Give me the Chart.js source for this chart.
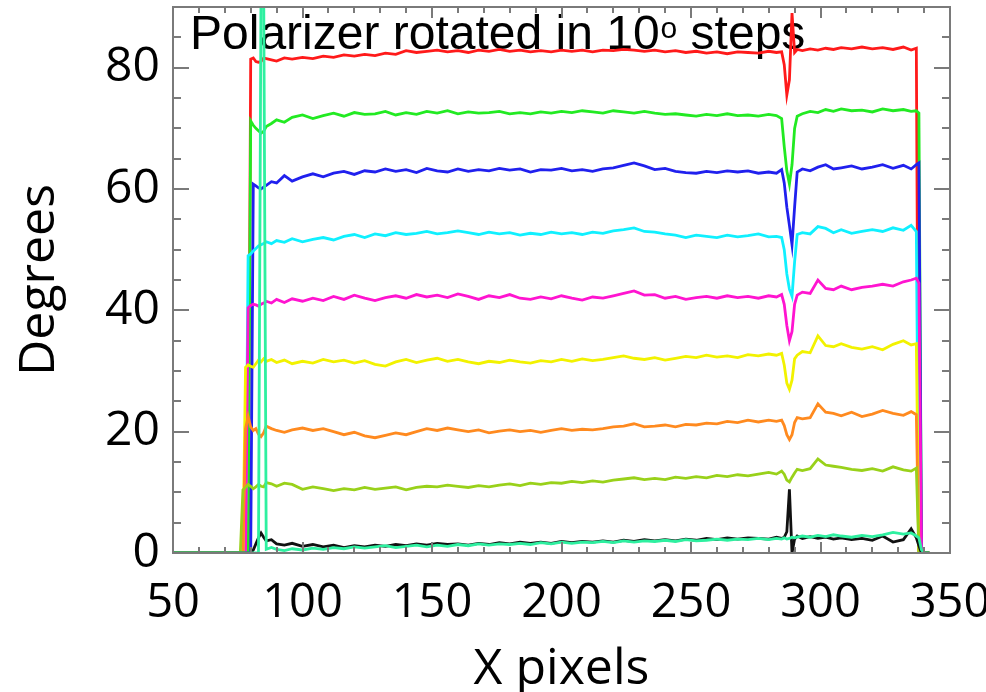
<!DOCTYPE html>
<html>
<head>
<meta charset="utf-8">
<script src="https://cdn.jsdelivr.net/npm/chart.js@4/dist/chart.umd.min.js"></script>
<style>
  html, body { margin: 0; background: #fff; }
  #wrap { width: 986px; height: 692px; }
</style>
</head>
<body>
<div id="wrap"><canvas id="chart"></canvas></div>
<script>
// x positions (pixels) shared by every trace
const xPixels = [
  50, 76, 77, 78, 79, 80, 81, 82, 83, 84, 85, 86,
  88, 90, 93, 96,
  100, 104, 108, 112, 116, 120, 124, 128, 132, 136,
  140, 144, 148, 152, 156, 160, 164, 168, 172, 176,
  180, 184, 188, 192, 196, 200, 204, 208, 212, 216,
  220, 224, 228, 232, 236, 240, 244, 248, 252, 256,
  260, 264, 268, 272, 276, 280,
  283, 285, 286, 287, 288, 289, 290, 291, 293, 296, 299, 302, 305, 308,
  312, 316, 320, 324, 328, 332, 335, 337, 338, 339, 340, 342
];

// angle traces, one per polarizer step (degrees)
const deg80 = [
  0, 0, 0, 0, 0, 81.4, 81.6, 81.0, 80.9, 81.0, 81.6, 81.5,
  81.3, 81.1, 81.6, 81.4,
  81.7, 81.5, 81.9, 81.7, 82.1, 81.9, 82.2, 82.0, 82.4, 82.2,
  82.8, 82.5, 82.7, 82.9, 82.6, 82.8, 82.5, 82.9, 82.7, 83.0,
  82.7, 82.9, 82.6, 82.8, 82.6, 82.9, 82.7, 82.9, 82.6, 82.9,
  82.8, 83.0, 82.9, 82.7, 82.9, 82.6, 82.8, 82.5, 82.7, 82.4,
  82.6, 82.3, 82.6, 82.5, 82.4, 82.7,
  82.5, 82.6, 80.5, 75.5, 78.0, 89.0, 82.5, 83.0, 82.8, 83.1, 82.9, 83.2, 83.0, 83.3,
  83.1, 83.4, 83.1, 83.3, 83.0, 83.4, 82.9, 83.2, 0, 0, 0, 0
];
const deg70 = [
  0, 0, 0, 0, 0, 71.2, 70.5, 70.0, 69.6, 69.2, 69.5, 70.3,
  70.8, 71.4, 71.0, 71.8,
  72.2, 71.6, 72.1, 72.5, 72.0, 72.6, 72.3, 72.4, 72.8, 72.2,
  72.6, 72.3, 72.8, 72.5, 72.9, 72.4, 72.7, 72.5, 72.6, 72.8,
  72.4, 72.6, 72.4, 72.7, 72.5, 72.8, 72.6, 72.9, 72.7, 72.5,
  72.9, 72.7, 72.5, 72.8, 72.5, 72.3, 72.4, 72.2, 72.0, 72.3,
  72.1, 72.4, 72.1, 72.2, 72.0, 72.3,
  72.1, 71.6, 67.0, 63.0, 60.8, 64.0, 70.0, 72.0, 72.4, 72.8, 72.6, 73.1, 72.8, 73.2,
  72.9, 73.0, 72.7, 73.2, 72.9, 73.1, 72.8, 72.9, 72.5, 0, 0, 0
];
const deg60 = [
  0, 0, 0, 0, 0, 0, 60.8, 60.5, 60.2, 60.0, 60.3, 60.6,
  61.2, 61.0, 62.2, 61.3,
  62.0, 62.5, 62.0, 62.6, 62.9, 62.4, 63.0, 62.8, 63.3, 62.9,
  63.2, 62.7, 63.4, 63.0, 62.8, 63.3, 62.9, 63.2, 63.0, 63.4,
  63.1, 63.3, 62.8, 63.2, 63.1, 63.4, 63.0, 63.2, 62.9, 63.3,
  63.5, 63.9, 64.3, 63.8, 63.2, 63.4, 62.9, 62.7, 62.6, 62.9,
  62.7, 63.0, 62.8, 63.0, 62.6, 62.8,
  62.6, 63.2, 61.0, 57.0, 54.0, 50.8, 57.0, 62.8, 63.3, 63.0, 63.6, 64.0, 63.3, 63.5,
  63.8, 63.3, 63.6, 64.0, 63.4, 63.9, 63.3, 64.0, 64.3, 0, 0, 0
];
const deg50 = [
  0, 0, 0, 0, 49.0, 49.3, 49.8, 50.2, 50.6, 50.8, 51.0, 51.3,
  51.0, 51.5, 51.2, 51.8,
  51.3, 51.7, 52.0, 51.6, 52.2, 52.5, 52.0, 52.6, 52.3, 52.8,
  52.5, 52.7, 53.0, 52.6, 52.8, 53.1, 52.8, 52.5, 52.9, 52.6,
  52.8, 52.4, 52.7, 52.5, 52.9, 52.6, 52.8, 52.5, 52.9, 52.7,
  53.1, 53.3, 53.6, 53.0, 52.9, 52.6, 52.4, 52.0, 52.4, 52.2,
  52.0, 52.4, 52.1, 52.3, 52.6, 52.1,
  52.2, 52.0, 50.0, 46.0, 43.5, 42.3, 48.0, 52.5, 52.8, 52.6, 53.8, 53.5, 52.8, 53.3,
  52.7, 53.0, 53.3, 53.0, 53.6, 53.2, 54.0, 53.0, 0, 0, 0, 0
];
const deg40 = [
  0, 0, 0, 0, 40.4, 40.8, 41.0, 40.9, 40.7, 41.0, 41.2, 41.5,
  41.2, 41.8, 41.3, 41.9,
  41.5, 42.0, 41.6, 42.3, 41.8, 42.5, 42.0, 41.6, 42.1, 42.4,
  42.0, 42.6, 42.2, 42.5, 42.1, 42.7, 42.3, 41.8, 42.4, 42.1,
  42.6, 42.0, 41.8, 42.2, 41.9, 42.4, 42.0, 41.7, 42.2, 42.0,
  42.4, 42.8, 43.2, 42.5, 42.6, 42.0, 42.3, 41.8, 42.1, 42.3,
  42.0, 42.4, 42.1, 42.3, 42.0, 42.4,
  42.2, 42.6, 41.0, 37.5, 35.0, 36.5, 41.0, 42.5, 43.0, 42.8, 45.0, 43.6, 43.4, 44.0,
  43.4, 43.8, 44.0, 44.3, 44.0, 44.7, 45.0, 45.3, 44.5, 0, 0, 0
];
const deg30 = [
  0, 0, 0, 30.6, 31.0, 30.8, 30.6, 31.2, 31.8, 31.5, 32.0, 31.6,
  31.9, 31.4, 31.8, 31.2,
  31.6, 31.3, 31.9, 31.5, 31.8, 31.3, 31.7, 31.1, 30.8, 31.5,
  31.9, 31.4, 31.8, 32.1, 31.6, 31.9, 31.5, 31.2, 31.6, 31.4,
  31.8, 31.5, 31.3, 31.7, 31.5, 31.9, 31.6, 32.0, 31.7, 31.9,
  32.2, 32.5, 32.1, 31.9, 32.2, 31.8, 32.1, 32.4, 32.2, 32.6,
  32.3, 32.5, 32.2, 32.7, 32.5, 32.8,
  32.6, 32.9, 31.0, 28.0, 27.0, 28.5, 32.0, 32.6, 33.2, 33.0, 35.8, 34.2, 34.0, 34.5,
  33.9, 33.6, 34.0, 33.5, 34.4, 35.0, 34.3, 34.5, 0, 0, 0, 0
];
const deg20 = [
  0, 0, 0, 20.5, 22.5, 20.8, 20.2, 20.5, 19.6, 19.2, 19.8, 20.9,
  20.5, 20.2, 19.9, 20.3,
  20.6, 20.2, 20.5, 20.0, 19.5, 19.9, 19.3, 19.0, 19.4, 19.8,
  19.5, 20.0, 20.5, 20.2, 20.6, 20.3, 20.0, 20.3, 19.8, 20.1,
  20.3, 20.0, 20.2, 19.9, 20.2, 20.5, 20.2, 20.4, 20.3, 20.5,
  20.8, 20.9, 21.3, 20.8, 20.9, 21.1, 20.8, 21.2, 21.1, 21.4,
  21.3, 21.7, 21.5, 21.9, 21.6, 21.9,
  21.7, 21.9, 21.0, 19.5, 18.7, 19.5, 21.5, 22.3, 22.1, 22.3, 24.6, 23.2, 23.0, 22.6,
  23.2, 22.5, 22.9, 23.5, 23.0, 22.7, 23.3, 22.8, 0, 0, 0, 0
];
const deg10 = [
  0, 0, 10.4, 10.8, 11.3, 11.0, 10.6, 10.9, 11.3, 11.0, 10.9, 11.6,
  11.4, 11.0, 11.5, 11.3,
  10.5, 10.9, 10.6, 10.3, 10.6, 10.4, 10.8, 10.5, 10.7, 10.9,
  10.4, 10.8, 11.0, 10.9, 11.2, 11.0, 10.8, 11.1, 10.9, 11.2,
  11.4, 11.1, 11.5, 11.3, 11.6, 11.5, 11.8, 11.6, 11.9, 11.7,
  12.0, 12.2, 12.4, 12.1, 12.3, 12.1, 12.5, 12.3, 12.6, 12.4,
  12.8, 12.6, 12.9, 12.7, 13.0, 13.3,
  13.0, 13.5, 13.0, 12.0, 11.7, 12.5, 13.2, 13.8, 13.6, 13.9, 15.5, 14.5, 14.3, 14.1,
  13.8, 13.6, 13.9, 13.5, 14.2, 13.7, 13.5, 14.0, 0, 0, 0, 0
];
const deg0 = [
  0, 0, 0, 0, 0, 0, 0.5, 1.5, 2.5, 3.3, 2.6, 2.0,
  2.2, 1.5, 1.3, 1.6,
  1.1, 1.4, 1.0, 1.3, 0.9, 1.2, 1.0, 1.3, 1.1, 1.4,
  1.2, 1.5, 1.3, 1.6, 1.4, 1.5, 1.3, 1.6, 1.4, 1.7,
  1.5, 1.8, 1.6, 1.8, 1.6, 1.9, 1.7, 1.9, 1.8, 2.0,
  1.8, 2.1, 1.9, 2.2, 2.0, 2.2, 2.0, 2.3, 2.1, 2.4,
  2.2, 2.5, 2.3, 2.5, 2.4, 2.3,
  2.6, 2.4, 2.6, 3.5, 10.5, 0, 2.3, 2.8, 2.4, 2.7, 2.4, 2.6, 2.3, 2.5,
  2.2, 2.4, 2.1, 2.8, 1.8, 2.2, 4.0, 2.5, 1.2, 0, 0, 0
];
const reference = [
  0, 0, 0, 0, 0, 0, 0, 0, 0, 95, 95, 0.6,
  0.9, 0.6, 0.4, 0.7,
  0.5, 0.8, 0.6, 0.9, 0.7, 1.0, 0.8, 1.0, 1.2, 0.9,
  1.1, 1.3, 1.0, 1.3, 1.1, 1.4, 1.2, 1.5, 1.3, 1.5,
  1.4, 1.6, 1.4, 1.7, 1.5, 1.8, 1.6, 1.8, 1.7, 1.9,
  1.7, 2.0, 1.8, 2.0, 1.9, 2.1, 1.9, 2.2, 2.0, 2.1,
  2.3, 2.1, 2.3, 2.2, 2.4, 2.2,
  2.4, 2.3, 2.5, 2.3, 2.4, 2.6, 2.5, 2.6, 2.8, 2.6, 2.9, 2.7, 3.0, 2.8,
  2.6, 2.9, 2.7, 3.0, 3.4, 3.1, 3.3, 2.8, 2.5, 0.5, 0, 0
];

const traces = [
  { name: '80', values: deg80, color: '#ff1a1a' },
  { name: '70', values: deg70, color: '#22ea22' },
  { name: '60', values: deg60, color: '#2020ee' },
  { name: '50', values: deg50, color: '#10f0ff' },
  { name: '40', values: deg40, color: '#ff14d0' },
  { name: '30', values: deg30, color: '#f2f200' },
  { name: '20', values: deg20, color: '#ff8a1f' },
  { name: '10', values: deg10, color: '#99d11a' },
  { name: '0', values: deg0, color: '#111111' },
  { name: 'ref', values: reference, color: '#2ef0a0' }
];

const AXIS_FONT = '"Open Sans", "DejaVu Sans", sans-serif';

// no edge padding from tick labels, the plot box is fixed
function noEdgePadding(scale) {
  scale.paddingLeft = 0;
  scale.paddingRight = 0;
  scale.paddingTop = 0;
  scale.paddingBottom = 0;
}

const frame = {
  id: 'frame',
  beforeDatasetsDraw(chart) {
    const ctx = chart.ctx;
    ctx.save();
    ctx.fillStyle = '#000';
    ctx.textBaseline = 'alphabetic';
    ctx.textAlign = 'left';
    let x = 190;
    ctx.font = '48px "Liberation Sans", Arial, sans-serif';
    ctx.fillText('Polarizer rotated in 10', x, 49);
    x += ctx.measureText('Polarizer rotated in 10').width;
    ctx.font = '30px "Liberation Sans", Arial, sans-serif';
    ctx.fillText('o', x + 1, 38);
    x += ctx.measureText('o').width + 1;
    ctx.font = '48px "Liberation Sans", Arial, sans-serif';
    ctx.fillText(' steps', x, 49);
    ctx.restore();
  },
  afterDatasetsDraw(chart) {
    const { ctx, chartArea: a, scales } = chart;
    const xs = scales.x, ys = scales.y;
    ctx.save();
    ctx.strokeStyle = '#7a7a7a';
    ctx.lineWidth = 2;
    ctx.strokeRect(a.left, a.top, a.right - a.left, a.bottom - a.top);
    ctx.beginPath();
    for (let v = xs.min; v <= xs.max; v += 10) {
      const px = Math.round(xs.getPixelForValue(v));
      const len = v % 50 === 0 ? 11 : 6;
      ctx.moveTo(px, a.bottom); ctx.lineTo(px, a.bottom - len);
      ctx.moveTo(px, a.top); ctx.lineTo(px, a.top + len);
    }
    for (let v = ys.min; v <= ys.max; v += 5) {
      const py = Math.round(ys.getPixelForValue(v));
      const len = v % 20 === 0 ? 16 : 8;
      ctx.moveTo(a.left, py); ctx.lineTo(a.left + len, py);
      ctx.moveTo(a.right, py); ctx.lineTo(a.right - len, py);
    }
    ctx.stroke();
    ctx.restore();
  }
};

new Chart(document.getElementById('chart'), {
  type: 'line',
  data: {
    datasets: traces.map((t, i) => ({
      label: t.name,
      data: xPixels.map((x, j) => ({ x: x, y: t.values[j] })),
      borderColor: t.color,
      backgroundColor: t.color,
      borderWidth: 2.8,
      pointRadius: 0,
      tension: 0,
      fill: false,
      order: traces.length - i
    }))
  },
  options: {
    responsive: true,
    maintainAspectRatio: false,
    animation: false,
    layout: { padding: { top: 7, right: 36, left: 0, bottom: 0 } },
    plugins: { legend: { display: false }, tooltip: { enabled: false } },
    scales: {
      x: {
        type: 'linear',
        min: 50,
        max: 350,
        grid: { display: false, drawTicks: false },
        border: { display: false },
        ticks: {
          stepSize: 50,
          padding: 22,
          maxRotation: 0,
          color: '#000',
          font: { family: AXIS_FONT, size: 47 }
        },
        title: {
          display: true,
          text: 'X pixels',
          color: '#000',
          font: { family: AXIS_FONT, size: 50, lineHeight: 1 },
          padding: { top: 0, bottom: -3 }
        },
        afterFit(scale) { scale.height = 139; noEdgePadding(scale); }
      },
      y: {
        min: 0,
        max: 90,
        grid: { display: false, drawTicks: false },
        border: { display: false },
        ticks: {
          stepSize: 20,
          includeBounds: false,
          padding: 13,
          color: '#000',
          font: { family: AXIS_FONT, size: 48 }
        },
        title: {
          display: true,
          text: 'Degrees',
          color: '#000',
          font: { family: AXIS_FONT, size: 50, lineHeight: 1 },
          padding: { top: 15, bottom: 0 }
        },
        afterFit(scale) { scale.width = 173; noEdgePadding(scale); }
      }
    }
  },
  plugins: [frame]
});
</script>
</body>
</html>
